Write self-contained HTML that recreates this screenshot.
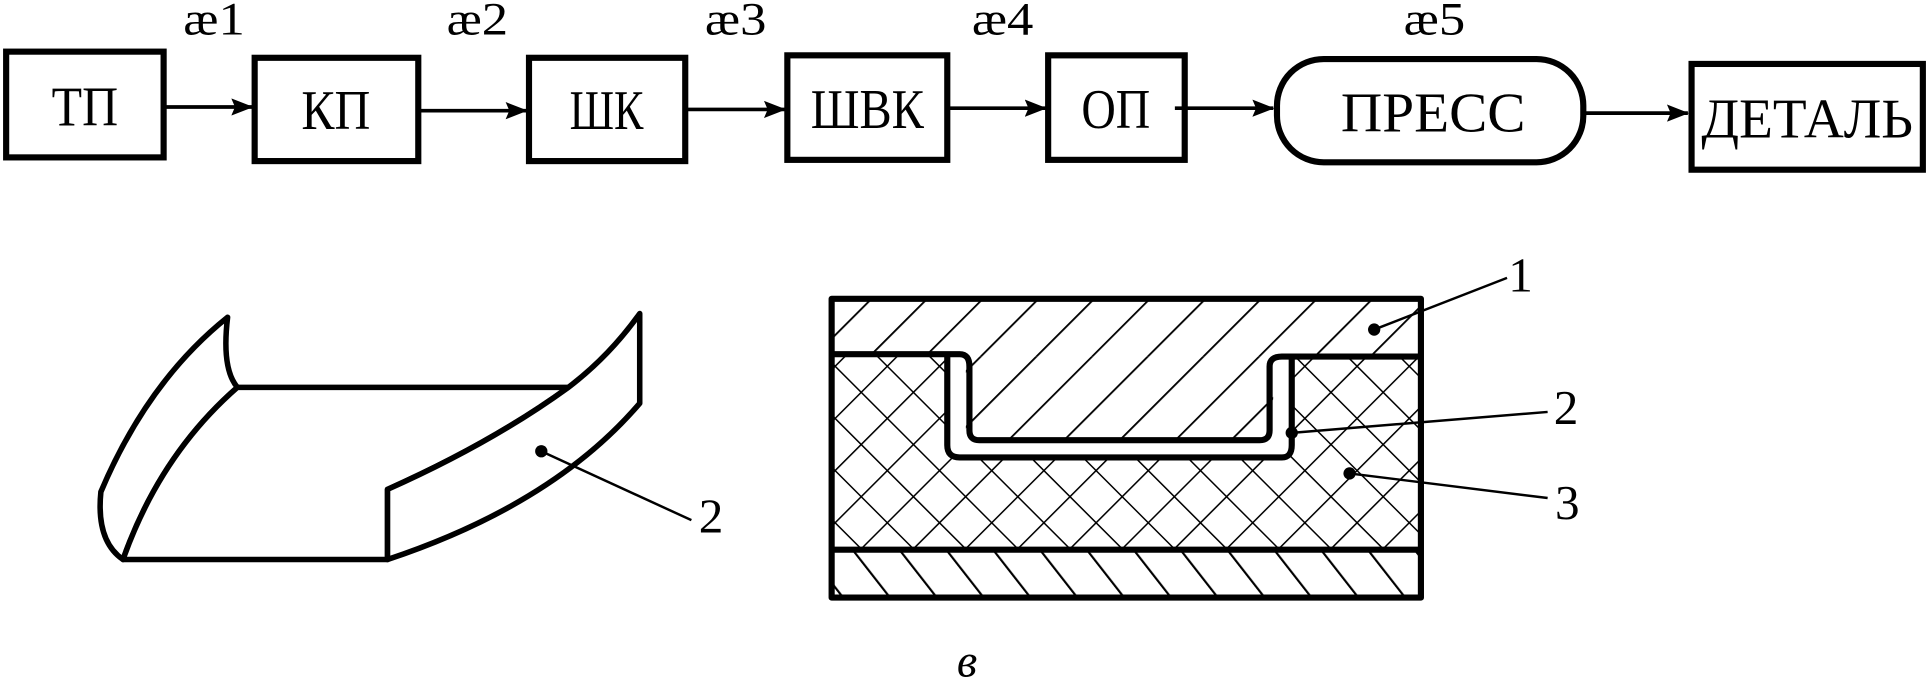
<!DOCTYPE html>
<html><head><meta charset="utf-8"><style>html,body{margin:0;padding:0;background:#fff}svg{display:block}</style></head>
<body>
<svg width="1929" height="680" viewBox="0 0 1568 553" preserveAspectRatio="none" xmlns="http://www.w3.org/2000/svg" font-family="'Liberation Serif', serif">
<defs>
<marker id="ar" markerWidth="18" markerHeight="14" refX="17" refY="7" orient="auto" markerUnits="userSpaceOnUse"><path d="M0,0 L18,7 L0,14 L3,7 Z"/></marker>
<pattern id="h1" patternUnits="userSpaceOnUse" width="32" height="32" patternTransform="rotate(45)"><line x1="0" y1="0" x2="0" y2="32" stroke="#000" stroke-width="3"/></pattern>
<pattern id="h2" patternUnits="userSpaceOnUse" width="30" height="30" patternTransform="rotate(-38)"><line x1="0" y1="0" x2="0" y2="30" stroke="#000" stroke-width="3.5"/></pattern>
<pattern id="hx" patternUnits="userSpaceOnUse" width="30" height="30" patternTransform="rotate(45)"><line x1="0" y1="0" x2="0" y2="30" stroke="#000" stroke-width="2.5"/><line x1="0" y1="0" x2="30" y2="0" stroke="#000" stroke-width="2.5"/></pattern>
</defs>
<g fill="none" stroke="#000" stroke-width="5">
<rect x="5" y="42" width="128" height="86"/>
<rect x="207" y="47" width="133" height="84"/>
<rect x="430" y="47" width="127" height="84"/>
<rect x="640" y="45" width="130" height="85"/>
<rect x="852" y="45" width="111" height="85"/>
<rect x="1038" y="48" width="249" height="84" rx="38"/>
<rect x="1375" y="52" width="188" height="86"/>
</g>
<g stroke="#000" stroke-width="3" marker-end="url(#ar)">
<line x1="135" y1="87" x2="205" y2="87"/>
<line x1="342" y1="90" x2="428" y2="90"/>
<line x1="559" y1="89" x2="638" y2="89"/>
<line x1="772" y1="88" x2="850" y2="88"/>
<line x1="955" y1="88" x2="1035" y2="88"/>
<line x1="1289" y1="92" x2="1372" y2="92"/>
</g>
<g font-size="46" text-anchor="middle">
<text x="69" y="102" textLength="54" lengthAdjust="spacingAndGlyphs">ТП</text>
<text x="273" y="105" textLength="56" lengthAdjust="spacingAndGlyphs">КП</text>
<text x="493" y="105" textLength="60" lengthAdjust="spacingAndGlyphs">ШК</text>
<text x="705" y="104" textLength="92" lengthAdjust="spacingAndGlyphs">ШВК</text>
<text x="907" y="104" textLength="56" lengthAdjust="spacingAndGlyphs">ОП</text>
<text x="1165" y="107" textLength="150" lengthAdjust="spacingAndGlyphs">ПРЕСС</text>
<text x="1469" y="112" textLength="172" lengthAdjust="spacingAndGlyphs">ДЕТАЛЬ</text>
</g>
<g font-size="38" text-anchor="middle">
<text x="174" y="28" textLength="50" lengthAdjust="spacingAndGlyphs">æ1</text>
<text x="388" y="28" textLength="50" lengthAdjust="spacingAndGlyphs">æ2</text>
<text x="598" y="28" textLength="50" lengthAdjust="spacingAndGlyphs">æ3</text>
<text x="815" y="28" textLength="50" lengthAdjust="spacingAndGlyphs">æ4</text>
<text x="1166" y="28" textLength="50" lengthAdjust="spacingAndGlyphs">æ5</text>
</g>
<g fill="#fff" stroke="#000" stroke-width="4.5" stroke-linejoin="round">
<path d="M185,258 Q180,300 193,315 Q130,370 100,455 Q78,440 82,400 Q120,310 185,258 Z"/>
<path d="M193,315 L462,315 Q400,360 315,398 L315,455 L100,455 Q130,370 193,315 Z"/>
<path d="M520,255 L520,328 Q450,410 315,455 L315,398 Q400,360 462,315 Q495,290 520,255 Z"/>
</g>
<circle cx="440" cy="367" r="5"/>
<line x1="440" y1="367" x2="562" y2="423" stroke="#000" stroke-width="2"/>
<text x="578" y="433" font-size="40" text-anchor="middle">2</text>
<rect x="676" y="243" width="479" height="47" fill="url(#h1)"/>
<path d="M785,290 L1035,290 L1035,358 L785,358 Z" fill="url(#h1)"/>
<path d="M676,290 L770,290 L770,370 L1050,370 L1050,290 L1155,290 L1155,447 L676,447 Z" fill="url(#hx)"/>
<rect x="676" y="447" width="479" height="39" fill="url(#h2)"/>
<path d="M770,290 L785,290 L785,358 L1035,358 L1035,290 L1050,290 L1050,370 L770,370 Z" fill="#fff"/>
<g fill="none" stroke="#000" stroke-width="5" stroke-linejoin="round">
<rect x="676" y="243" width="479" height="243"/>
<line x1="676" y1="447" x2="1155" y2="447"/>
<path d="M676,288 L780,288 Q788,288 788,298 L788,350 Q788,358 796,358 L1024,358 Q1032,358 1032,350 L1032,298 Q1032,290 1042,290 L1155,290"/>
<path d="M770,290 L770,362 Q770,372 780,372 L1042,372 Q1050,372 1050,362 L1050,290"/>
</g>
<circle cx="1117" cy="268" r="5"/>
<line x1="1117" y1="268" x2="1225" y2="226" stroke="#000" stroke-width="2"/>
<text x="1236" y="237" font-size="40" text-anchor="middle">1</text>
<circle cx="1050" cy="352" r="5"/>
<line x1="1050" y1="352" x2="1258" y2="335" stroke="#000" stroke-width="2"/>
<text x="1273" y="345" font-size="40" text-anchor="middle">2</text>
<circle cx="1097" cy="385" r="5"/>
<line x1="1097" y1="385" x2="1258" y2="405" stroke="#000" stroke-width="2"/>
<text x="1274" y="422" font-size="40" text-anchor="middle">3</text>
<text x="786" y="550" font-size="38" font-style="italic" text-anchor="middle">в</text>
</svg>
</body></html>
